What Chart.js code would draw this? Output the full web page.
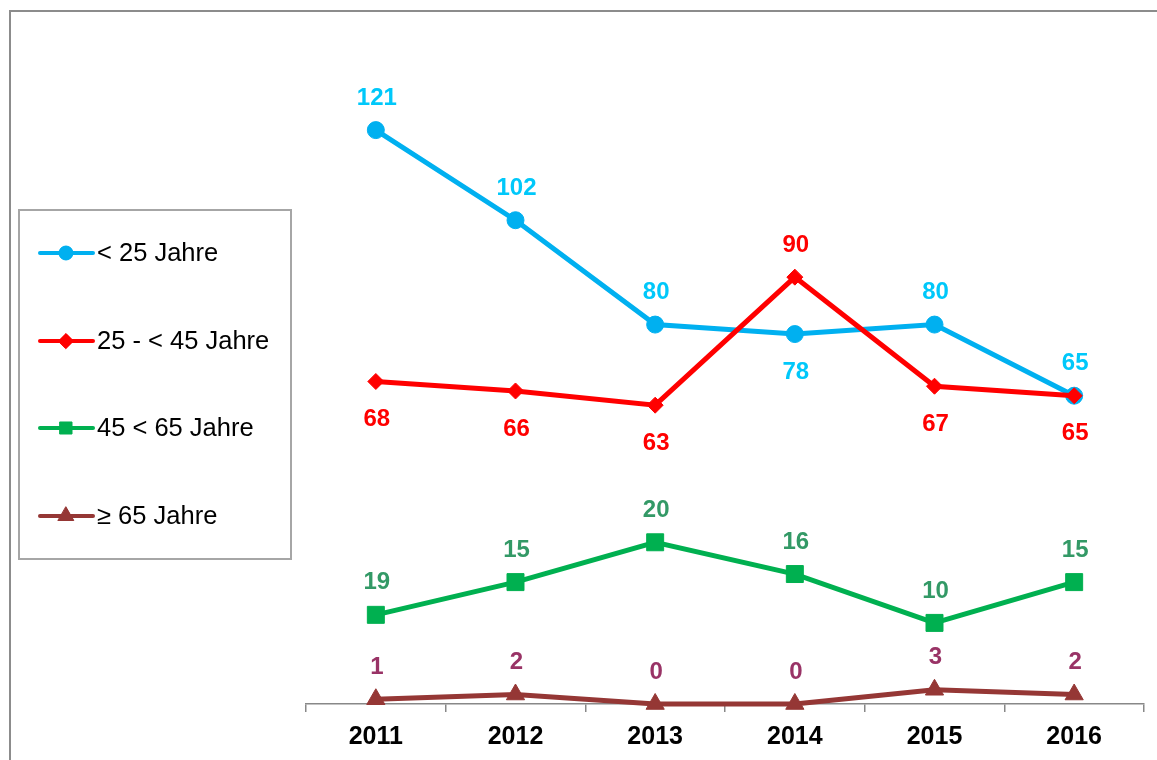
<!DOCTYPE html>
<html>
<head>
<meta charset="utf-8">
<script src="https://cdn.jsdelivr.net/npm/chart.js@4"></script>
<style>
  body { margin: 0; background: #fff; overflow: hidden; }
  #wrap { position: relative; width: 1157px; height: 760px; }
  #frame { position: absolute; left: 9px; top: 10px; width: 1200px; height: 800px; border: 2px solid #8c8c8c; box-sizing: border-box; }
  canvas { position: absolute; left: 0; top: 0; }
</style>
</head>
<body>
<div id="wrap">
  <div id="frame"></div>
  <canvas id="chart" width="1157" height="760"></canvas>
</div>
<script>
// data
const years = ['2011', '2012', '2013', '2014', '2015', '2016'];
const seriesNames = ['< 25 Jahre', '25 - < 45 Jahre', '45 < 65 Jahre', '\u2265 65 Jahre'];
const under25 = [121, 102, 80, 78, 80, 65];
const from25to45 = [68, 66, 63, 90, 67, 65];
// the green line is drawn higher than its labels say, so keep both
const from45to65 = [18.8, 25.7, 34.1, 27.4, 17.1, 25.7];
const from45to65Labels = [19, 15, 20, 16, 10, 15];
const over65 = [1, 2, 0, 0, 3, 2];
const yMax = 140;

// which side the value label sits on: -1 above, 1 below
const labelSide = [
    [-1, -1, -1, 1, -1, -1],
    [1, 1, 1, -1, 1, 1],
    [-1, -1, -1, -1, -1, -1],
    [-1, -1, -1, -1, -1, -1]
];
const labelColors = ['#00C8FA', '#FF0000', '#339966', '#993366'];

const valueLabels = {
    id: 'valueLabels',
    afterDatasetsDraw(chart) {
        const ctx = chart.ctx;
        ctx.save();
        ctx.font = 'bold 24px "Liberation Sans", Arial, sans-serif';
        ctx.textAlign = 'center';
        ctx.textBaseline = 'middle';
        chart.data.datasets.forEach((ds, i) => {
            const meta = chart.getDatasetMeta(i);
            ctx.fillStyle = labelColors[i];
            meta.data.forEach((pt, j) => {
                const txt = ds.labelText ? ds.labelText[j] : ds.data[j];
                const side = labelSide[i][j];
                ctx.fillText(String(txt), pt.x + 1, pt.y + side * 35 + 3);
            });
        });
        ctx.restore();
    }
};

const boxLegend = {
    id: 'boxLegend',
    afterDraw(chart) {
        const ctx = chart.ctx;
        ctx.save();
        ctx.strokeStyle = '#a6a6a6';
        ctx.lineWidth = 2;
        ctx.strokeRect(19, 210, 272, 349);
        const rows = [253, 341, 428, 516];
        const markSize = [7, 7.5, 8.5, 9];
        chart.data.datasets.forEach((ds, i) => {
            const y = rows[i];
            ctx.strokeStyle = ds.borderColor;
            ctx.lineWidth = 4;
            ctx.lineCap = 'round';
            ctx.beginPath();
            ctx.moveTo(40, y);
            ctx.lineTo(93, y);
            ctx.stroke();
            ctx.fillStyle = ds.borderColor;
            ctx.lineWidth = 1;
            Chart.helpers.drawPoint(ctx, { pointStyle: ds.pointStyle, radius: markSize[i], borderWidth: 1 }, 66, y);
            ctx.fill();
            ctx.fillStyle = '#000';
            ctx.font = '25.5px "Liberation Sans", Arial, sans-serif';
            ctx.textAlign = 'left';
            ctx.textBaseline = 'middle';
            ctx.fillText(ds.label, 97, y + 1);
        });
        ctx.restore();
    }
};

function makeSeries(label, data, color, style, radius, order) {
    return {
        label: label,
        data: data,
        borderColor: color,
        backgroundColor: color,
        borderWidth: 5,
        pointStyle: style,
        pointRadius: radius,
        pointHoverRadius: radius,
        pointBorderWidth: 1,
        tension: 0,
        clip: false,
        order: order
    };
}

const datasets = [
    makeSeries(seriesNames[0], under25, '#00B0F0', 'circle', 8.5, 4),
    makeSeries(seriesNames[1], from25to45, '#FF0000', 'rectRot', 8, 3),
    makeSeries(seriesNames[2], from45to65, '#00B050', 'rect', 12, 2),
    makeSeries(seriesNames[3], over65, '#953735', 'triangle', 10.5, 1)
];
datasets[2].labelText = from45to65Labels;

new Chart(document.getElementById('chart'), {
    type: 'line',
    data: { labels: years, datasets: datasets },
    options: {
        responsive: false,
        animation: false,
        layout: { padding: { left: 306, right: 11, top: 40, bottom: 0 } },
        plugins: {
            legend: { display: false },
            tooltip: { enabled: false }
        },
        scales: {
            x: {
                offset: true,
                grid: {
                    offset: true,
                    drawOnChartArea: false,
                    drawTicks: true,
                    tickLength: 8,
                    color: '#888888',
                    lineWidth: 1.5
                },
                border: { color: '#888888', width: 1.5 },
                ticks: {
                    color: '#000',
                    padding: 10,
                    font: { family: '"Liberation Sans", Arial, sans-serif', size: 25, weight: 'bold' }
                },
                afterFit(scale) { scale.height = 56; }
            },
            y: {
                display: false,
                min: 0,
                max: yMax
            }
        }
    },
    plugins: [valueLabels, boxLegend]
});
</script>
</body>
</html>
